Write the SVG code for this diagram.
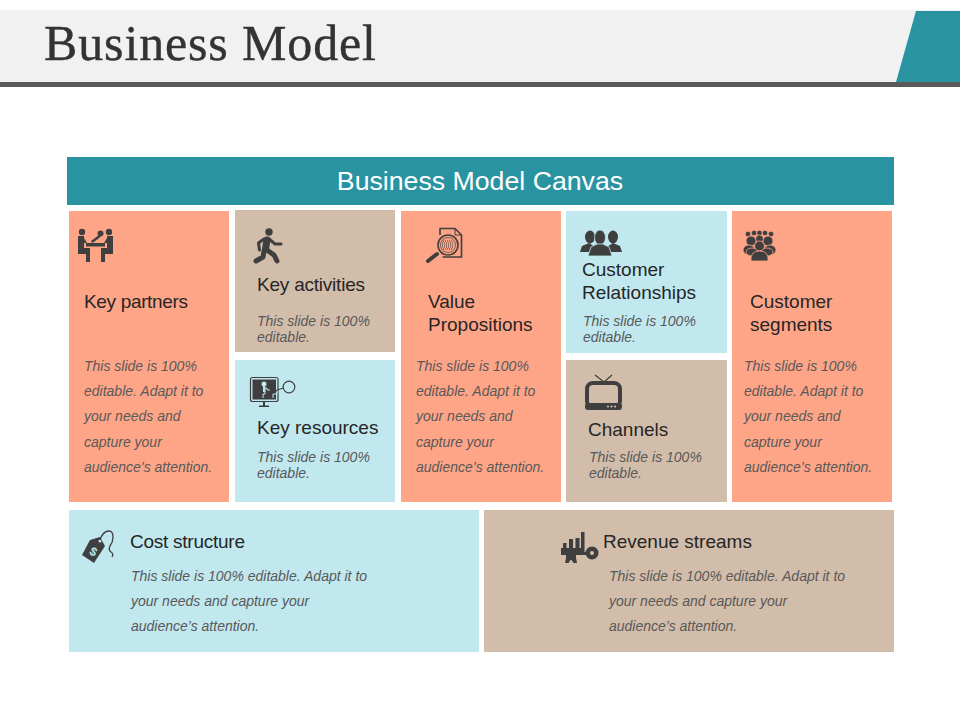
<svg xmlns="http://www.w3.org/2000/svg" width="960" height="720" viewBox="0 0 960 720">
<style>
.h{font:19px "Liberation Sans",Arial,sans-serif;fill:#262626}
.b{font:italic 14px "Liberation Sans",Arial,sans-serif;fill:#595959}
.i{fill:#3f3f3f}
.s{fill:none;stroke:#3f3f3f;stroke-linecap:round;stroke-linejoin:round}
.c{fill:#ffa587}.t{fill:#d2bdaa}.l{fill:#c1e8ef}
</style>
<rect width="960" height="720" fill="#fff"/>
<g id="title-band">
<rect x="0" y="10" width="960" height="72" fill="#f1f1f1"/>
<rect x="0" y="82" width="960" height="5" fill="#595959"/>
<polygon points="916,11 960,11 960,82 896,82" fill="#2a93a1"/>
<text x="44" y="60" font-family="'Liberation Serif','Times New Roman',serif" font-size="50" fill="#333" stroke="#333" stroke-width="0.400" textLength="332" lengthAdjust="spacing">Business Model</text>
</g>
<g id="canvas-header">
<rect x="67" y="157" width="827" height="48" fill="#2a93a1"/>
<text x="480" y="190" text-anchor="middle" font-family="'Liberation Sans',Arial,sans-serif" font-size="26.700" fill="#fff">Business Model Canvas</text>
</g>
<g id="key-partners">
<rect class="c" x="69" y="211" width="160" height="291"/>
<g class="i">
<circle cx="82" cy="232" r="3.200"/><circle cx="109" cy="232" r="3.200"/>
<path d="M78 236h6v12h6v14h-4v-8h-8z"/><path d="M113 236h-6v12h-6v14h4v-8h8z"/>
<path d="M84 238l3 5h-3z"/><path d="M107 238l-3 5h3z"/>
<rect x="86" y="243" width="19" height="3.500"/>
<path d="M91 241l8-6 1.500 2-8 6z"/><circle cx="100.500" cy="233.500" r="3"/>
</g>
<text class="h" x="84" y="308" textLength="104">Key partners</text>
<g class="b"><text x="84" y="371">This slide is 100%</text><text x="84" y="396">editable. Adapt it to</text><text x="84" y="421">your needs and</text><text x="84" y="447">capture your</text><text x="84" y="472">audience’s attention.</text></g>
</g>
<g id="key-activities">
<rect class="t" x="235" y="210" width="160" height="142"/>
<circle class="i" cx="269" cy="232" r="3.700"/>
<path class="s" stroke-width="7" d="M267 240l-1.500 9"/>
<path class="s" stroke-width="3" d="M269 239l6 5h6M264 239l-5.500 4 1 7"/>
<path class="s" stroke-width="5" d="M267 250l7 5 3 6M264 251l-1 6-7 4"/>
<text class="h" x="257" y="291" textLength="108">Key activities</text>
<g class="b"><text x="257" y="326">This slide is 100%</text><text x="257" y="342">editable.</text></g>
</g>
<g id="key-resources">
<rect class="l" x="235" y="360" width="160" height="142"/>
<rect x="250.500" y="377.500" width="27.500" height="24" rx="2" fill="none" stroke="#3f3f3f" stroke-width="1.200"/>
<rect class="i" x="252.500" y="379.500" width="23.500" height="20"/>
<path d="M270 390h-3v-2h-2v6h-2v4M277 389v5h-4v4" fill="none" stroke="#c1e8ef" stroke-width="1"/>
<path class="i" d="M270 390h7v1.500h-7z"/>
<rect class="i" x="263" y="402" width="2" height="4"/><rect class="i" x="259" y="405.500" width="10" height="1.500"/>
<path class="s" stroke-width="1.200" d="M277 390l6.500-2"/>
<circle cx="289" cy="387" r="5.800" fill="none" stroke="#3f3f3f" stroke-width="1.200"/>
<circle cx="264" cy="384" r="2.500" fill="#c1e8ef"/><rect x="263" y="385" width="2" height="7" fill="#c1e8ef"/>
<text class="h" x="257" y="434">Key resources</text>
<g class="b"><text x="257" y="462">This slide is 100%</text><text x="257" y="478">editable.</text></g>
</g>
<g id="value-propositions">
<rect class="c" x="401" y="211" width="160" height="291"/>
<path d="M440 235v-6.500h15l6.500 6.500v22h-19" fill="none" stroke="#3f3f3f" stroke-width="1.600"/>
<path d="M455 229v6h6" fill="none" stroke="#3f3f3f"/>
<circle cx="448" cy="245" r="10" fill="#ffa587" stroke="#3f3f3f" stroke-width="1.600"/>
<circle cx="448" cy="245" r="7.500" fill="none" stroke="#3f3f3f" stroke-width="0.700"/>
<path d="M443 241h10M442 243h12M442 245h12M442 247h12M443 249h10" fill="none" stroke="#3f3f3f" stroke-width="1" stroke-dasharray="1 1"/>
<path class="s" stroke-width="4" d="M428 261l9-7"/>
<text class="h" x="428" y="308">Value</text><text class="h" x="428" y="331">Propositions</text>
<g class="b"><text x="416" y="371">This slide is 100%</text><text x="416" y="396">editable. Adapt it to</text><text x="416" y="421">your needs and</text><text x="416" y="447">capture your</text><text x="416" y="472">audience’s attention.</text></g>
</g>
<g id="customer-relationships">
<rect class="l" x="566" y="211" width="161" height="142"/>
<g class="i">
<ellipse cx="590" cy="237" rx="5" ry="6.500"/><path d="M580 252l2-6 7-3 6 4-3 5z"/>
<ellipse cx="613" cy="237" rx="5" ry="6.500"/><path d="M622 252l-2-6-7-3-6 4 3 5z"/>
</g>
<g class="i" stroke="#c1e8ef" stroke-width="0.800">
<ellipse cx="600" cy="237.500" rx="5.500" ry="7.500"/><path d="M588 256l3-9 6-3h6l6 3 3 9z"/>
</g>
<text class="h" x="582" y="276">Customer</text><text class="h" x="582" y="299">Relationships</text>
<g class="b"><text x="583" y="326">This slide is 100%</text><text x="583" y="342">editable.</text></g>
</g>
<g id="channels">
<rect class="t" x="566" y="360" width="161" height="142"/>
<path d="M595 375l9 7 8-7" fill="none" stroke="#3f3f3f" stroke-width="1.200"/>
<rect x="587" y="383" width="33" height="24" rx="6" fill="none" stroke="#3f3f3f" stroke-width="4"/>
<rect x="585" y="403" width="37" height="7" rx="3" class="i"/>
<g fill="#d2bdaa"><circle cx="608" cy="406.500" r="1.100"/><circle cx="611.500" cy="406.500" r="1.100"/><circle cx="615" cy="406.500" r="1.100"/></g>
<text class="h" x="588" y="436">Channels</text>
<g class="b"><text x="589" y="462">This slide is 100%</text><text x="589" y="478">editable.</text></g>
</g>
<g id="customer-segments">
<rect class="c" x="732" y="211" width="160" height="291"/>
<g class="i" stroke="#ffa587" stroke-width="0.800">
<circle cx="748" cy="234" r="2.800"/><circle cx="754" cy="233" r="2.800"/><circle cx="759.500" cy="233" r="2.800"/><circle cx="765" cy="233" r="2.800"/><circle cx="771" cy="234" r="2.800"/>
<circle cx="759.500" cy="239" r="4"/>
<circle cx="751" cy="241" r="5"/><circle cx="768" cy="241" r="5"/>
<ellipse cx="749" cy="250" rx="6" ry="5"/><ellipse cx="770" cy="250" rx="6" ry="5"/>
<ellipse cx="752" cy="252" rx="6" ry="4"/><ellipse cx="767" cy="252" rx="6" ry="4"/>
<circle cx="759.500" cy="246" r="5"/>
<path d="M751 261q-1-10 8.500-10 9.500 0 8.500 10z"/>
</g>
<text class="h" x="750" y="308">Customer</text><text class="h" x="750" y="331">segments</text>
<g class="b"><text x="744" y="371">This slide is 100%</text><text x="744" y="396">editable. Adapt it to</text><text x="744" y="421">your needs and</text><text x="744" y="447">capture your</text><text x="744" y="472">audience’s attention.</text></g>
</g>
<g id="cost-structure">
<rect class="l" x="69" y="510" width="410" height="142"/>
<path class="i" d="M90 540l10-3 5 9-11 17-12-8z"/>
<circle cx="100" cy="541" r="1.500" fill="#c1e8ef"/>
<path d="M100 540q3-9 9-9 4 0 4 6 0 5-3 9-2 4 1 6 3 2 1 5" fill="none" stroke="#3f3f3f" stroke-width="1.300"/>
<text x="90" y="556" font-family="'Liberation Sans',Arial,sans-serif" font-size="12" font-weight="bold" fill="#c1e8ef" transform="rotate(30 94 552)">$</text>
<text class="h" x="130" y="548" textLength="115">Cost structure</text>
<g class="b"><text x="131" y="581">This slide is 100% editable. Adapt it to</text><text x="131" y="606">your needs and capture your</text><text x="131" y="631">audience’s attention.</text></g>
</g>
<g id="revenue-streams">
<rect class="t" x="484" y="510" width="410" height="142"/>
<g class="i">
<rect x="563" y="543" width="3.500" height="12"/><rect x="569" y="539" width="4" height="16"/><rect x="575.500" y="538" width="4" height="17"/><rect x="581" y="532" width="3.500" height="23"/>
<rect x="561" y="548" width="22" height="7"/><rect x="583" y="552" width="6" height="3"/>
<path d="M566 555h10v3l1 5h-3.500l-2-3h-1l-2 3h-3.500l1-5z"/>
<circle cx="592" cy="553" r="6.500"/>
</g>
<circle cx="592" cy="553" r="2" fill="#d2bdaa"/>
<text class="h" x="603" y="548">Revenue streams</text>
<g class="b"><text x="609" y="581">This slide is 100% editable. Adapt it to</text><text x="609" y="606">your needs and capture your</text><text x="609" y="631">audience’s attention.</text></g>
</g>
</svg>
